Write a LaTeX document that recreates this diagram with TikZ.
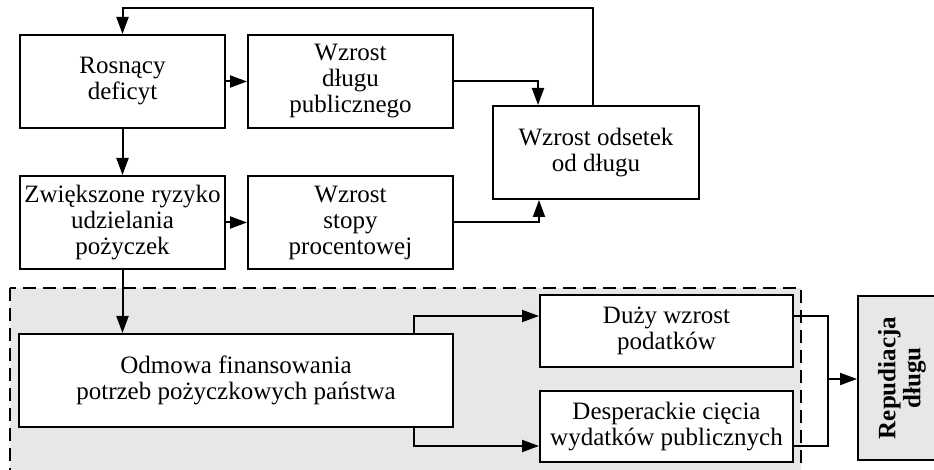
\documentclass[tikz,border=0pt]{standalone}
\usepackage{fontspec}
\setmainfont{Liberation Serif}
\usepackage{tikz}
\usetikzlibrary{arrows.meta}
\definecolor{tlo}{RGB}{230,231,233}

\begin{document}
\begin{tikzpicture}[x=0.5pt, y=-0.5pt, line width=1pt,
    >={Triangle[length=8.5pt,width=6pt]},
    every node/.style={font=\fontsize{12.5}{13}\selectfont, align=center},
    box/.style={draw, fill=white, inner sep=0pt},
    bigbox/.style={box, minimum width=102.5pt, minimum height=46.5pt}]

                \useasboundingbox (0,0) rectangle (934,470);
                \clip (0,0) rectangle (934,470);

                % Dashed area
                \draw[dash pattern=on 6.5pt off 3.5pt, fill=tlo] (10,288) rectangle (801,490);

                % Nodes
                \node at (122.5,81.5) (rosn) [bigbox] {Rosnący\\deficyt};
                \node at (350.5,81.5) (dlug) [bigbox] {Wzrost\\długu\\publicznego};
                \node at (122.5,222.5) (ryzyko) [bigbox] {Zwiększone ryzyko\\udzielania\\pożyczek};
                \node at (350.5,222.5) (stopa) [bigbox] {Wzrost\\stopy\\procentowej};
                \node at (596,152.5) (odsetki) [bigbox, minimum width=103pt] {Wzrost odsetek\\od długu};
                \node at (236,380.5) (odmowa) [box, minimum width=217pt, minimum height=46.5pt] {Odmowa finansowania\\potrzeb pożyczkowych państwa};
                \node at (666.5,331) (podatki) [box, minimum width=126.5pt, minimum height=36pt] {Duży wzrost\\podatków};
                \node at (666.5,426.5) (ciecia) [box, minimum width=126.5pt, minimum height=35.5pt] {Desperackie cięcia\\wydatków publicznych};
                \node at (902,378) (repud) [box, fill=tlo, minimum width=44pt, minimum height=82pt] {};
                \node at (repud.center) (repudtxt) [rotate=90, font=\fontsize{12.5}{12.5}\selectfont\bfseries] {Repudiacja\\długu};
                \coordinate (join) at (828,379);

                % Arrows
                \draw[->] (rosn) -- (dlug);
                \draw[->] (rosn) -- (ryzyko);
                \draw[->] (ryzyko) -- (stopa);
                \draw[->] (dlug.east) -| ([xshift=23pt]odsetki.north west);
                \draw[->] (stopa.east) -| ([xshift=23.5pt]odsetki.south west);
                \draw[->] ([xshift=50.5pt]odsetki.north west) -- ++(0,-97) -| (rosn.north);
                \draw[->] (ryzyko.south) -- (ryzyko.south |- odmowa.north);
                \draw[->] ([xshift=-20pt]odmowa.north east) |- ([yshift=7.5pt]podatki.west);
                \draw[->] ([xshift=-20pt]odmowa.south east) |- ([yshift=-9.75pt]ciecia.west);
                \draw ([yshift=7.5pt]podatki.east) -| (join) |- ([yshift=-9.75pt]ciecia.east);
                \draw[->] (join) -- (repud.west |- join);

\end{tikzpicture}
\end{document}
